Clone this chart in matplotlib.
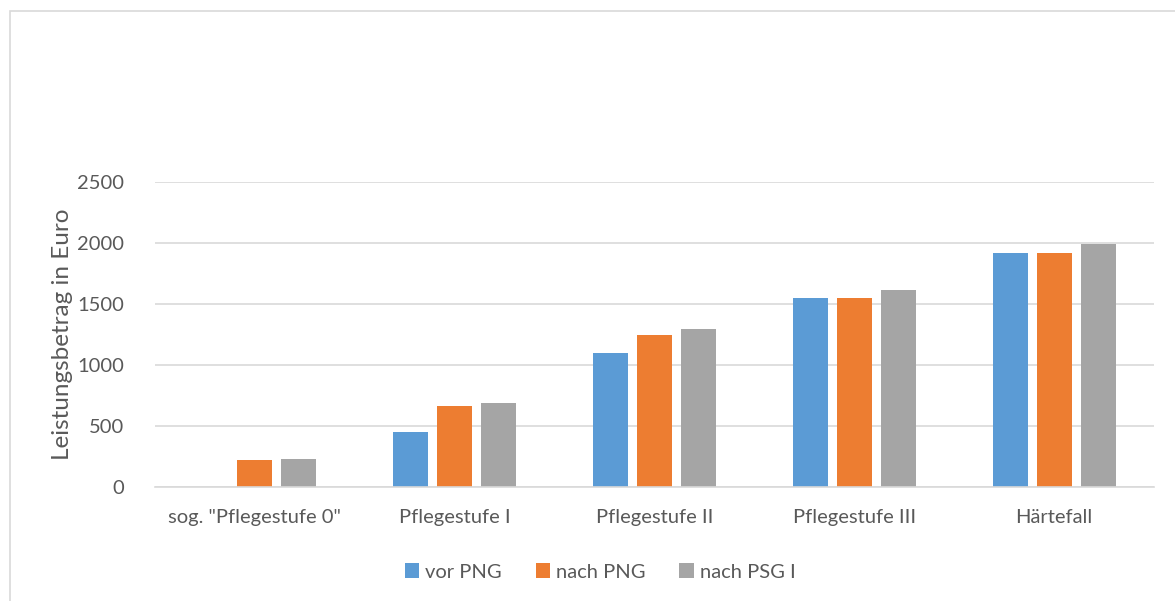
import numpy as np
import matplotlib.pyplot as plt
from matplotlib.patches import Rectangle

categories = ['sog. "Pflegestufe 0"', 'Pflegestufe I', 'Pflegestufe II', 'Pflegestufe III', 'Härtefall']
vor_png = [0, 450, 1100, 1550, 1918]
nach_png = [225, 665, 1250, 1550, 1918]
nach_psg = [231, 689, 1298, 1612, 1995]
series_names = ['vor PNG', 'nach PNG', 'nach PSG I']
colors = ['#5B9BD5', '#ED7D31', '#A5A5A5']

plt.rcParams['font.family'] = ['Lato', 'DejaVu Sans']
text_color = '#595959'
grid_color = '#D9D9D9'

fig = plt.figure(figsize=(11.75, 6.01), dpi=100)
ax = fig.add_axes([155/1175, 1-487/601, 999/1175, (487-182)/601])

x = np.arange(len(categories))
width = 0.175
step = 0.22
for i, (vals, name, c) in enumerate(zip([vor_png, nach_png, nach_psg], series_names, colors)):
    ax.bar(x + (i-1)*step, vals, width=width, color=c, label=name, zorder=3)

ax.set_xlim(-0.5, len(categories)-0.5)
ax.set_ylim(0, 2500)
ax.set_yticks([0, 500, 1000, 1500, 2000, 2500])
ax.set_xticks(x)
ax.set_xticklabels(categories)
ax.grid(axis='y', color=grid_color, linewidth=1.2, zorder=0)
for s in ['top', 'right', 'left']:
    ax.spines[s].set_visible(False)
ax.spines['bottom'].set_color(grid_color)
ax.spines['bottom'].set_linewidth(1.2)
ax.spines['bottom'].set_zorder(4)
ax.tick_params(axis='both', length=0, colors=text_color, labelsize=14.5)
ax.tick_params(axis='y', pad=22)
ax.tick_params(axis='x', pad=16)
ax.set_ylabel('Leistungsbetrag in Euro', color=text_color, fontsize=17.5, labelpad=3)

leg = fig.legend(loc='center', bbox_to_anchor=(600/1175, 1-572/601), ncol=3, frameon=False,
                 fontsize=14.5, handlelength=0.7, handleheight=0.7, handletextpad=0.3, columnspacing=1.7)
for t in leg.get_texts():
    t.set_color(text_color)

fig.patches.append(Rectangle((10/1175, -0.1), 1.2, 1.1-11/601, transform=fig.transFigure,
                             fill=False, edgecolor=grid_color, linewidth=1.2))

fig.savefig('out.png', dpi=100)
